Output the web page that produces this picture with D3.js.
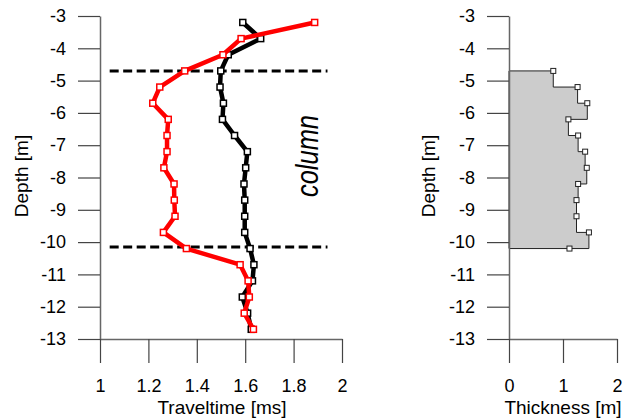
<!DOCTYPE html>
<html>
<head>
<meta charset="utf-8">
<script src="https://cdn.jsdelivr.net/npm/d3@7"></script>
<style>
  body { margin: 0; background: #fff; }
  text { font-family: "Liberation Sans", Arial, sans-serif; }
</style>
</head>
<body>
<script>
// depths of the samples [m]
var depths = [-3.2, -3.7, -4.2, -4.7, -5.2, -5.7, -6.2, -6.7, -7.2, -7.7,
              -8.2, -8.7, -9.2, -9.7, -10.2, -10.7, -11.2, -11.7, -12.2, -12.7];
// traveltimes [ms]
var blackTimes = [1.59, 1.664, 1.53, 1.499, 1.496, 1.51, 1.506, 1.556, 1.609, 1.602,
                  1.595, 1.598, 1.598, 1.598, 1.62, 1.636, 1.63, 1.588, 1.61, 1.625];
var redTimes = [1.887, 1.583, 1.508, 1.35, 1.247, 1.218, 1.282, 1.277, 1.277, 1.264,
                1.306, 1.307, 1.31, 1.262, 1.357, 1.579, 1.612, 1.617, 1.596, 1.634];
// column boundaries
var interfaceDepths = [-4.7, -10.15];
var interfaceRange = [1.04, 1.94];
// thickness profile
var thickDepths = [-4.7, -5.2, -5.7, -6.2, -6.7, -7.2, -7.7, -8.2, -8.7, -9.2, -9.7, -10.2];
var thickValues = [0.82, 1.27, 1.45, 1.10, 1.28, 1.41, 1.44, 1.28, 1.25, 1.25, 1.48, 1.12];
// ticks
var depthMajor = [-3, -4, -5, -6, -7, -8, -9, -10, -11, -12, -13];
var depthMinor = [-3.5, -4.5, -5.5, -6.5, -7.5, -8.5, -9.5, -10.5, -11.5, -12.5];
var timeMajor = [1, 1.2, 1.4, 1.6, 1.8, 2];
var timeMinor = [1.1, 1.3, 1.5, 1.7, 1.9];
var thickMajor = [0, 1, 2];
var thickMinor = [0.5, 1.5];

var w = 623, h = 419;
var svg = d3.select("body").append("svg").attr("width", w).attr("height", h);

var y = d3.scaleLinear().domain([-3, -13]).range([16, 339]);
var xL = d3.scaleLinear().domain([1, 2]).range([100, 342]);
var xR = d3.scaleLinear().domain([0, 2]).range([509, 617]);

// plain hyphen instead of unicode minus
function plain(d) { return String(d); }

function drawAxes(x, ax, major, minor, title, titleX, depthTitleX) {
    // left depth axis
    var gl = svg.append("g").attr("transform", "translate(" + ax + ",0)");
    gl.call(d3.axisLeft(y).tickValues(depthMinor).tickSize(11).tickSizeOuter(0).tickFormat(""));
    gl.call(d3.axisLeft(y).tickValues(depthMajor).tickSize(22).tickSizeOuter(0).tickPadding(12)
        .tickFormat(plain));
    // bottom axis
    var gb = svg.append("g").attr("transform", "translate(0," + y(-13) + ")");
    gb.call(d3.axisBottom(x).tickValues(minor).tickSize(11).tickSizeOuter(0).tickFormat(""));
    gb.call(d3.axisBottom(x).tickValues(major).tickSize(24).tickSizeOuter(0).tickPadding(16)
        .tickFormat(plain));
    svg.selectAll(".domain").attr("stroke", "#666").attr("stroke-width", 1.5);
    svg.selectAll(".tick line").attr("stroke", "#444").attr("stroke-width", 1.2);
    svg.selectAll(".tick text").attr("font-size", 18).attr("fill", "#000")
        .attr("font-family", "'Liberation Sans', Arial, sans-serif");

    svg.append("text").attr("x", titleX).attr("y", 414)
        .attr("text-anchor", "middle").attr("font-size", 19).text(title);
    svg.append("text").attr("transform", "translate(" + depthTitleX + ",176) rotate(-90)")
        .attr("text-anchor", "middle").attr("font-size", 19).text("Depth [m]");
}

// ---- right plot: thickness steps ----
var stepPts = [[0, thickDepths[0]]];
for (var i = 0; i < thickDepths.length; i++) {
    stepPts.push([thickValues[i], thickDepths[i]]);
    if (i < thickDepths.length - 1) stepPts.push([thickValues[i], thickDepths[i + 1]]);
}
stepPts.push([0, thickDepths[thickDepths.length - 1]]);

var stepLine = d3.line()
    .x(function(d) { return xR(d[0]); })
    .y(function(d) { return y(d[1]); });

svg.append("path").attr("d", stepLine(stepPts) + "Z")
    .attr("fill", "#cccccc").attr("stroke", "#222").attr("stroke-width", 1);

drawAxes(xL, xL(1), timeMajor, timeMinor, "Traveltime [ms]", 222, 28);
drawAxes(xR, xR(0), thickMajor, thickMinor, "Thickness [m]", 563, 435);

svg.selectAll(".thick").data(thickValues).enter().append("rect")
    .attr("x", function(d) { return xR(d) - 2.5; })
    .attr("y", function(d, i) { return y(thickDepths[i]) - 2.5; })
    .attr("width", 5).attr("height", 5)
    .attr("fill", "#fff").attr("stroke", "#222").attr("stroke-width", 1);

// ---- left plot ----
interfaceDepths.forEach(function(d) {
    svg.append("line")
        .attr("x1", xL(interfaceRange[0])).attr("x2", xL(interfaceRange[1]))
        .attr("y1", y(d)).attr("y2", y(d))
        .attr("stroke", "#000").attr("stroke-width", 3)
        .attr("stroke-dasharray", "9,4.5");
});

function drawSeries(vals, color) {
    var line = d3.line()
        .x(function(d) { return xL(d); })
        .y(function(d, i) { return y(depths[i]); });
    svg.append("path").attr("d", line(vals))
        .attr("fill", "none").attr("stroke", color).attr("stroke-width", 4.5)
        .attr("stroke-linejoin", "round");
    svg.append("g").selectAll("rect").data(vals).enter().append("rect")
        .attr("x", function(d) { return xL(d) - 3; })
        .attr("y", function(d, i) { return y(depths[i]) - 3; })
        .attr("width", 6).attr("height", 6)
        .attr("fill", "#fff").attr("stroke", color).attr("stroke-width", 1.5);
}
drawSeries(blackTimes, "#000");
drawSeries(redTimes, "#ff0000");

svg.append("text")
    .attr("transform", "translate(318,156) rotate(-90)")
    .attr("text-anchor", "middle")
    .attr("font-size", 31).attr("font-style", "italic")
    .attr("textLength", 82).attr("lengthAdjust", "spacingAndGlyphs")
    .text("column");
</script>
</body>
</html>
